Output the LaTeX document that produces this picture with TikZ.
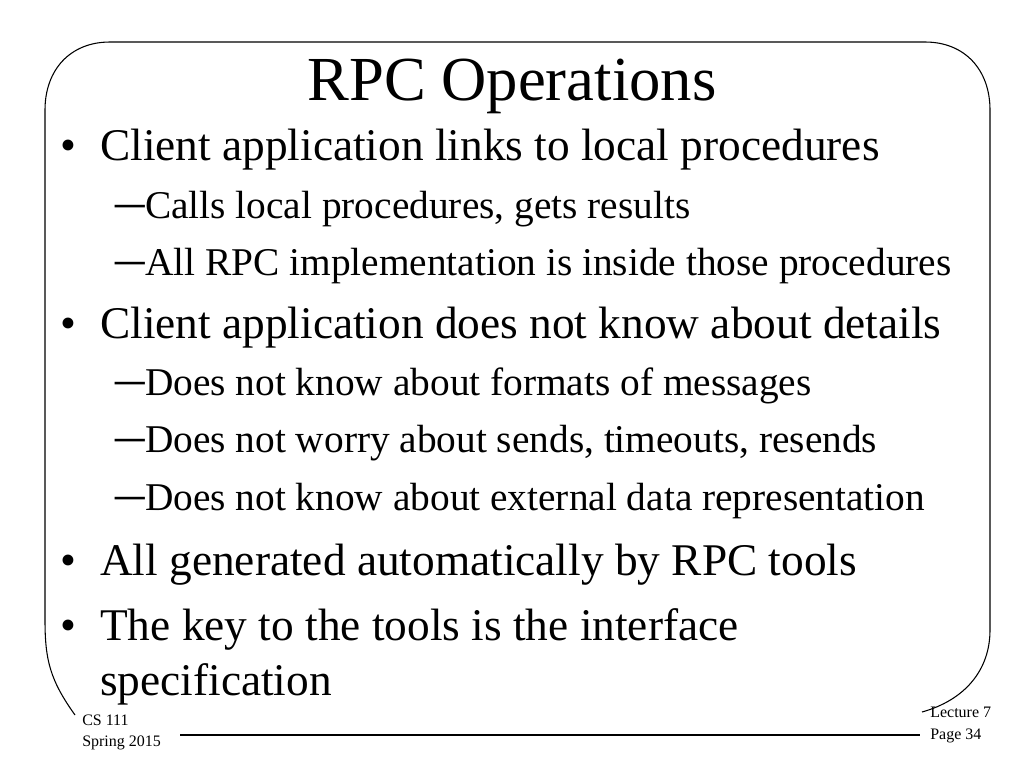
\documentclass[tikz,border=0pt]{standalone}
\usepackage{fontspec}
\setmainfont{Liberation Serif}
\begin{document}
\begin{tikzpicture}[x=0.75pt,y=-0.75pt,
		title/.style={anchor=base,font=\fontsize{47}{56}\selectfont},
		lvlone/.style={anchor=base west,inner sep=0pt,font=\fontsize{34}{40}\selectfont},
		lvltwo/.style={anchor=base west,inner sep=0pt,font=\fontsize{29.5}{34}\selectfont},
		foot/.style={anchor=base west,inner sep=0pt,font=\fontsize{12}{14}\selectfont},
	]
	\useasboundingbox (0,0) rectangle (1024,768);

	% frame
	\draw[line width=0.8pt] (75,715) .. controls (50,680) and (45,660) .. (45,620)
		-- (45,110) .. controls (45,70) and (70,42) .. (110,42)
		-- (925,42) .. controls (965,42) and (990,70) .. (990,110)
		-- (990,630) .. controls (990,670) and (965,700) .. (922,712);
	\coordinate (rulel) at (180,735);
	\coordinate (ruler) at (920,735);
	\draw[line width=0.8pt] (rulel) -- (ruler);

	\node[title] (ttl) at (512,100) {RPC Operations};

	\node[lvlone] (bone) at (60,160) {\makebox[30pt][l]{\textbullet}Client application links to local procedures};
	\node[lvltwo] (sone) at (115,218) {\makebox[22.5pt][l]{\scalebox{1.5}[1.3]{--}}Calls local procedures, gets results};
	\node[lvltwo] (stwo) at (115,275) {\makebox[22.5pt][l]{\scalebox{1.5}[1.3]{--}}All RPC implementation is inside those procedures};
	\node[lvlone] (btwo) at (60,338) {\makebox[30pt][l]{\textbullet}Client application does not know about details};
	\node[lvltwo] (sthree) at (115,395) {\makebox[22.5pt][l]{\scalebox{1.5}[1.3]{--}}Does not know about formats of messages};
	\node[lvltwo] (sfour) at (115,452) {\makebox[22.5pt][l]{\scalebox{1.5}[1.3]{--}}Does not worry about sends, timeouts, resends};
	\node[lvltwo] (sfive) at (115,510) {\makebox[22.5pt][l]{\scalebox{1.5}[1.3]{--}}Does not know about external data representation};
	\node[lvlone] (bthree) at (60,575) {\makebox[30pt][l]{\textbullet}All generated automatically by RPC tools};
	\node[lvlone] (bfour) at (60,640) {\makebox[30pt][l]{\textbullet}The key to the tools is the interface};
	\node[lvlone] (bfive) at (100,695) {specification};

	\node[foot] (course) at (82,725) {CS 111};
	\node[foot] (term) at (82,746) {Spring 2015};
	\node[foot] (lect) at (930,717) {Lecture 7};
	\node[foot] (page) at (930,739) {Page 34};
\end{tikzpicture}
\end{document}
